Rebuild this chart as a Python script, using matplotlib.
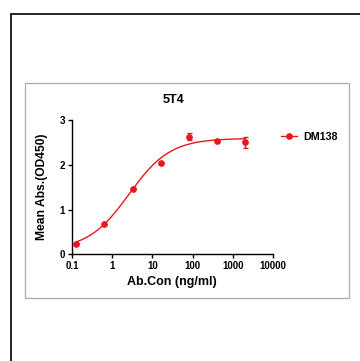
import numpy as np
import matplotlib
matplotlib.use('Agg')
import matplotlib.pyplot as plt
from matplotlib.patches import Rectangle

plt.rcParams['font.family'] = ['Liberation Sans', 'DejaVu Sans']
plt.rcParams['font.weight'] = 'bold'

# Data
conc = [0.128, 0.64, 3.2, 16, 80, 400, 2000]
od450 = [0.235, 0.67, 1.46, 2.04, 2.63, 2.52, 2.50]
err = [0.01, 0.01, 0.01, 0.01, 0.085, 0.01, 0.13]
series_name = 'DM138'
xticks = [0.1, 1, 10, 100, 1000, 10000]
xticklabels = ['0.1', '1', '10', '100', '1000', '10000']
yticks = [0, 1, 2, 3]

# 4PL fit parameters (bottom, top, EC50, hill)
fit_bottom, fit_top, fit_ec50, fit_hill = 0.10, 2.59, 2.63, 0.85

red = '#e8161e'

fig = plt.figure(figsize=(3.6, 3.61), dpi=100)

# outer frame and gray panel
fig.patches.append(Rectangle((11/360, -0.1), 1.2, 1 - 14/361 + 0.1, transform=fig.transFigure,
                             fill=False, edgecolor='#111111', linewidth=1.3))
fig.patches.append(Rectangle((25/360, 1 - 298/361), 324/360, 215/361, transform=fig.transFigure,
                             fill=False, edgecolor='#aaaaaa', linewidth=0.9))

ax = fig.add_axes([72/360, 1 - 254.3/361, 201/360, 134.3/361])

xs = np.logspace(np.log10(conc[0]), np.log10(conc[-1]), 200)
curve = fit_bottom + (fit_top - fit_bottom) / (1 + (fit_ec50 / xs) ** fit_hill)
ax.plot(xs, curve, color=red, linewidth=1.0)
ax.errorbar(conc, od450, yerr=err, fmt='o', color=red, markersize=3.8,
            elinewidth=1.0, capsize=1.8, capthick=1.0)
# legend handle
ax.plot([], [], color=red, marker='o', markersize=3.8, linewidth=1.0, label=series_name)

ax.set_xscale('log')
ax.set_xlim(0.1, 10000)
ax.set_ylim(0, 3)
ax.set_xticks(xticks)
ax.set_xticklabels(xticklabels)
ax.minorticks_off()
ax.set_yticks(yticks)
ax.spines['top'].set_visible(False)
ax.spines['right'].set_visible(False)
for s in ['left', 'bottom']:
    ax.spines[s].set_linewidth(1.0)
ax.tick_params(direction='out', length=3, width=1.0, labelsize=7, pad=2)
for lab in ax.get_xticklabels() + ax.get_yticklabels():
    lab.set_fontweight('bold')

fig.text(174/360, 1 - 100/361, '5T4', ha='center', va='center', fontsize=9, fontweight='bold')
fig.text(172/360, 1 - 281.5/361, 'Ab.Con (ng/ml)', ha='center', va='center', fontsize=9, fontweight='bold')
fig.text(42/360, 1 - 187/361, 'Mean Abs.(OD450)', ha='center', va='center', rotation=90,
         fontsize=8.7, fontweight='bold')

ax.legend(loc='center left', bbox_to_anchor=(281/360, 1 - 137/361), bbox_transform=fig.transFigure,
          frameon=False, handlelength=1.5, handletextpad=0.6, borderpad=0, borderaxespad=0,
          prop={'size': 7.7, 'weight': 'bold'})

fig.savefig('out.png', dpi=100)
